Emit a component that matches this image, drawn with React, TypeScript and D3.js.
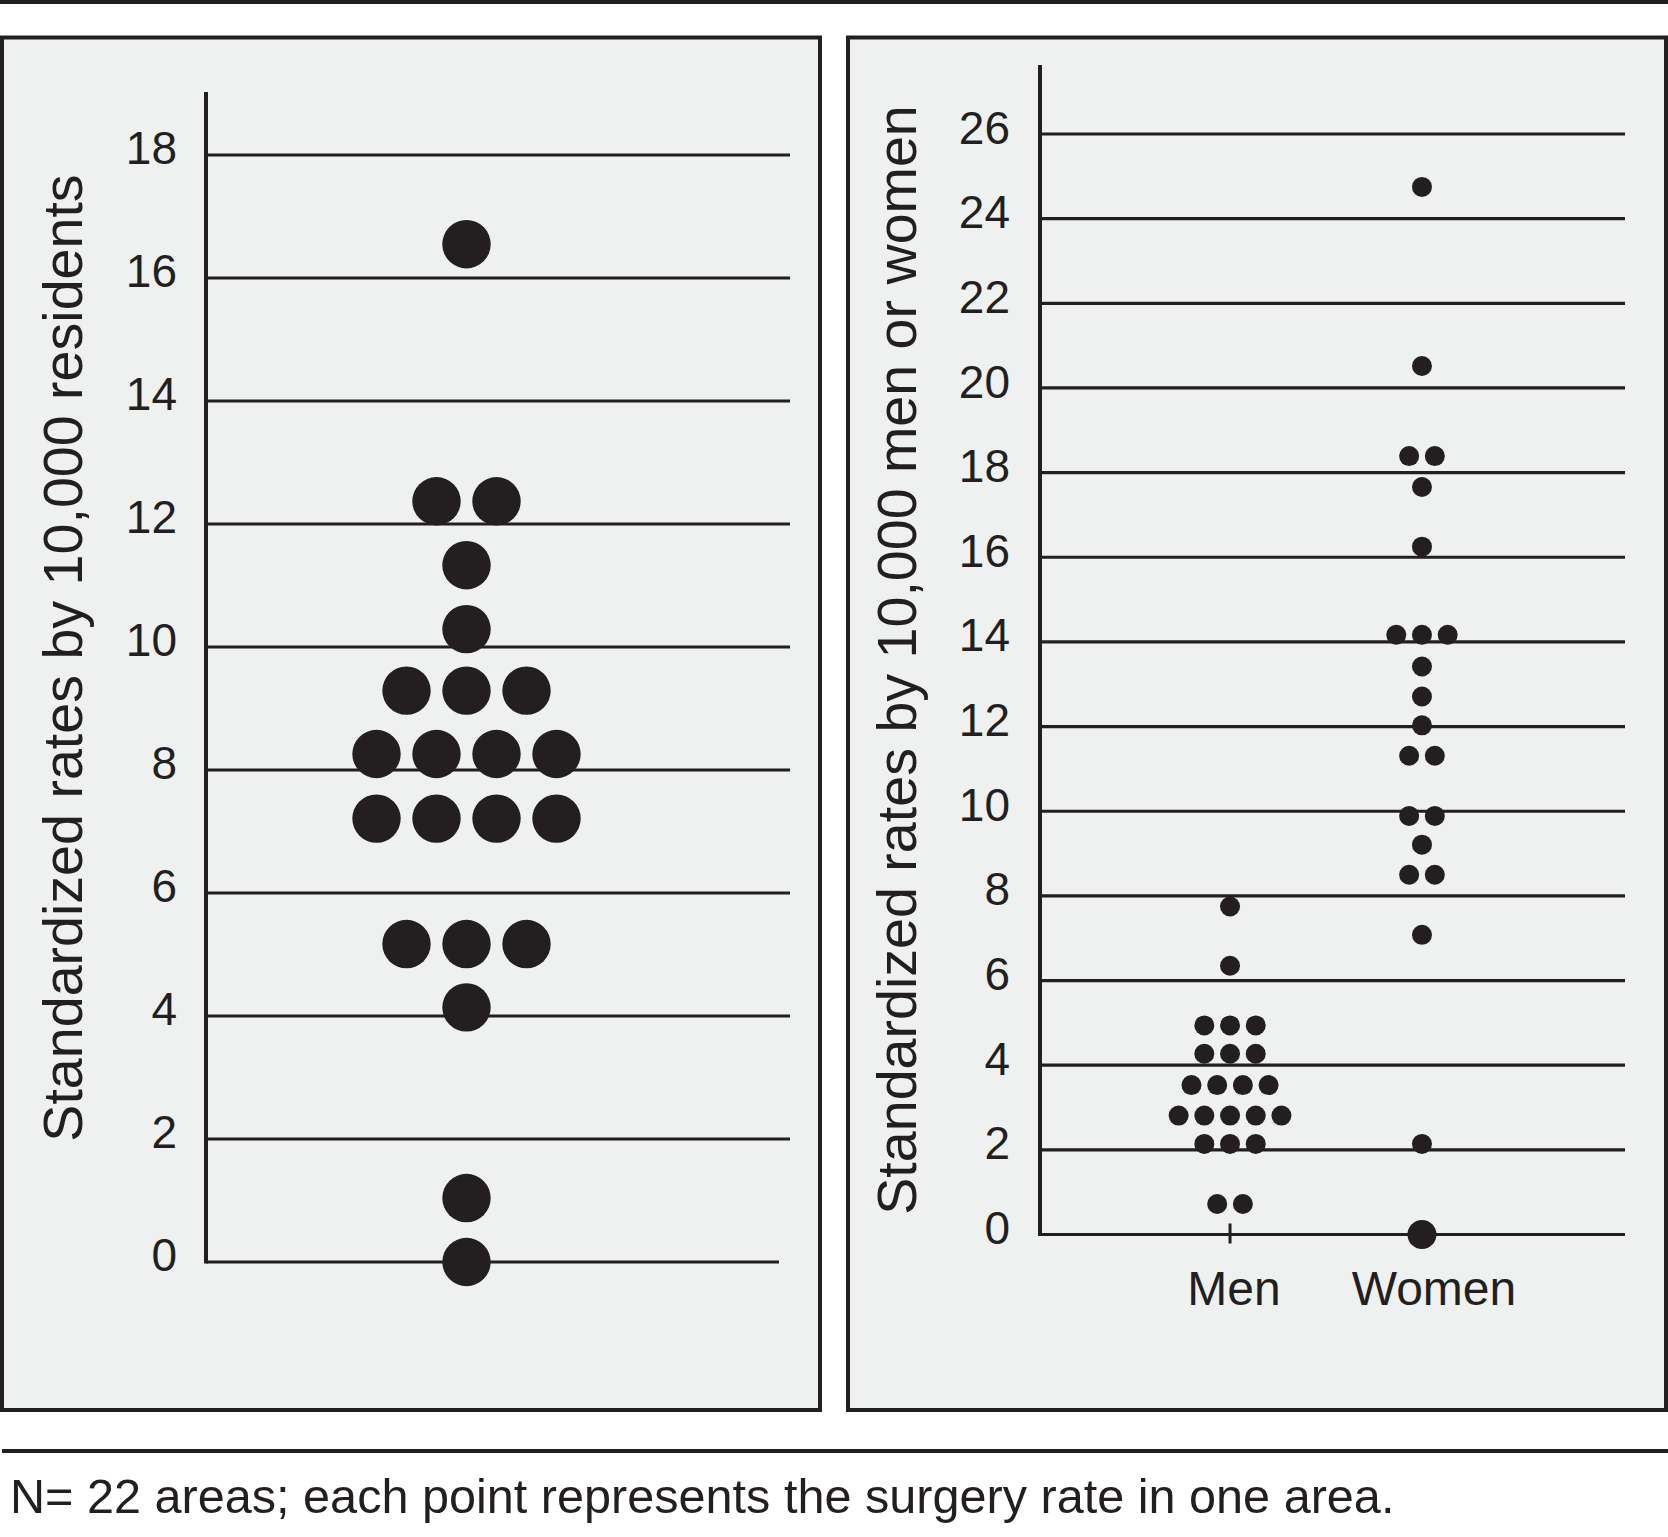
import React from 'react';
import * as d3 from 'd3';

const W = 1668;
const H = 1537;
const INK = '#231f20';
const PANEL_BG = '#eff1f0';
const FONT = '"Liberation Sans", Arial, Helvetica, sans-serif';

// data
const leftTicks = [0, 2, 4, 6, 8, 10, 12, 14, 16, 18];
const rightTicks = [0, 2, 4, 6, 8, 10, 12, 14, 16, 18, 20, 22, 24, 26];
const groups = ['Men', 'Women'];

const allRates = [
  16.55,
  12.37, 12.37,
  11.33,
  10.29,
  9.29, 9.29, 9.29,
  8.26, 8.26, 8.26, 8.26,
  7.21, 7.21, 7.21, 7.21,
  5.17, 5.17, 5.17,
  4.14,
  1.04,
  0,
];

const menRates = [
  7.75,
  6.35,
  4.94, 4.94, 4.94,
  4.27, 4.27, 4.27,
  3.53, 3.53, 3.53, 3.53,
  2.81, 2.81, 2.81, 2.81, 2.81,
  2.14, 2.14, 2.14,
  0.72, 0.72,
];

const womenRates = [
  24.75,
  20.52,
  18.39, 18.39,
  17.66,
  16.25,
  14.17, 14.17, 14.17,
  13.42,
  12.71,
  12.03,
  11.31, 11.31,
  9.89, 9.89,
  9.21,
  8.5, 8.5,
  7.08,
  2.14,
  0,
];

const leftTitle = 'Standardized rates by 10,000 residents';
const rightTitle = 'Standardized rates by 10,000 men or women';
const caption = 'N= 22 areas; each point represents the surgery rate in one area.';

// spread points sharing a value side by side
function swarm(values: number[], step: number) {
  const counts = d3.rollup(values, v => v.length, d => d);
  const seen = new Map<number, number>();
  return values.map(v => {
    const n = counts.get(v)!;
    const i = seen.get(v) ?? 0;
    seen.set(v, i + 1);
    return { value: v, dx: (i - (n - 1) / 2) * step };
  });
}

export default function App() {
  // left panel
  const axL = 206;
  const yL = d3.scaleLinear().domain([0, 18]).range([1262, 155]);
  const xL = d3.scalePoint<string>().domain(['all']).range([axL, 727]).padding(0.5);
  const leftPts = swarm(allRates, 60);

  // right panel
  const axR = 1040;
  const yR = d3.scaleLinear().domain([0, 26]).range([1234.5, 134]);
  const xR = d3.scalePoint<string>().domain(groups).range([axR, 1612]).padding(0.99);
  const menPts = swarm(menRates, 25.7);
  const womenPts = swarm(womenRates, 25.7);

  const tickFont = 46;

  return (
    <div>
      <style>{'body{margin:0}'}</style>
      <svg width={W} height={H} style={{ display: 'block', background: '#fff' }} fontFamily={FONT}>
        <line x1={0} x2={W} y1={2} y2={2} stroke={INK} strokeWidth={4} />

        {/* left panel */}
        <rect x={2} y={37.5} width={818} height={1372.5} fill={PANEL_BG} stroke={INK} strokeWidth={4} />
        {leftTicks.map(t => (
          <g key={t}>
            <line x1={axL} x2={t === 0 ? 779 : 790} y1={yL(t)} y2={yL(t)} stroke={INK} strokeWidth={3.2} />
            <text x={177} y={yL(t) - 8} dy="0.36em" textAnchor="end" fontSize={tickFont} fill={INK}>{t}</text>
          </g>
        ))}
        <line x1={axL} x2={axL} y1={92} y2={yL(0) + 1.6} stroke={INK} strokeWidth={4} />
        {leftPts.map((p, i) => (
          <circle key={i} cx={xL('all')! + p.dx} cy={yL(p.value)} r={24.2} fill={INK} />
        ))}
        <text transform={`translate(82,658) rotate(-90)`} textAnchor="middle" fontSize={55.6} fill={INK}>{leftTitle}</text>

        {/* right panel */}
        <rect x={848} y={37.5} width={818} height={1372.5} fill={PANEL_BG} stroke={INK} strokeWidth={4} />
        {rightTicks.map(t => (
          <g key={t}>
            <line x1={axR} x2={1625} y1={yR(t)} y2={yR(t)} stroke={INK} strokeWidth={3.2} />
            <text x={1010} y={yR(t) - 7} dy="0.36em" textAnchor="end" fontSize={tickFont} fill={INK}>{t}</text>
          </g>
        ))}
        <line x1={axR} x2={axR} y1={65} y2={yR(0) + 1.6} stroke={INK} strokeWidth={4} />
        <line x1={xR('Men')!} x2={xR('Men')!} y1={yR(0) - 11} y2={yR(0) + 9} stroke={INK} strokeWidth={3} />
        {menPts.map((p, i) => (
          <circle key={'m' + i} cx={xR('Men')! + p.dx} cy={yR(p.value)} r={10} fill={INK} />
        ))}
        {womenPts.map((p, i) => (
          <circle key={'w' + i} cx={xR('Women')! + p.dx} cy={yR(p.value)} r={p.value === 0 ? 14.5 : 10} fill={INK} />
        ))}
        {groups.map((g, i) => (
          <text key={g} x={xR(g)! + (i === 0 ? 4 : 12)} y={1305} textAnchor="middle" fontSize={48} fill={INK}>{g}</text>
        ))}
        <text transform={`translate(916,660) rotate(-90)`} textAnchor="middle" fontSize={55.6} fill={INK}>{rightTitle}</text>

        <line x1={2} x2={W} y1={1451} y2={1451} stroke={INK} strokeWidth={4} />
        <text x={10} y={1513} fontSize={48.6} fill={INK}>{caption}</text>
      </svg>
    </div>
  );
}
